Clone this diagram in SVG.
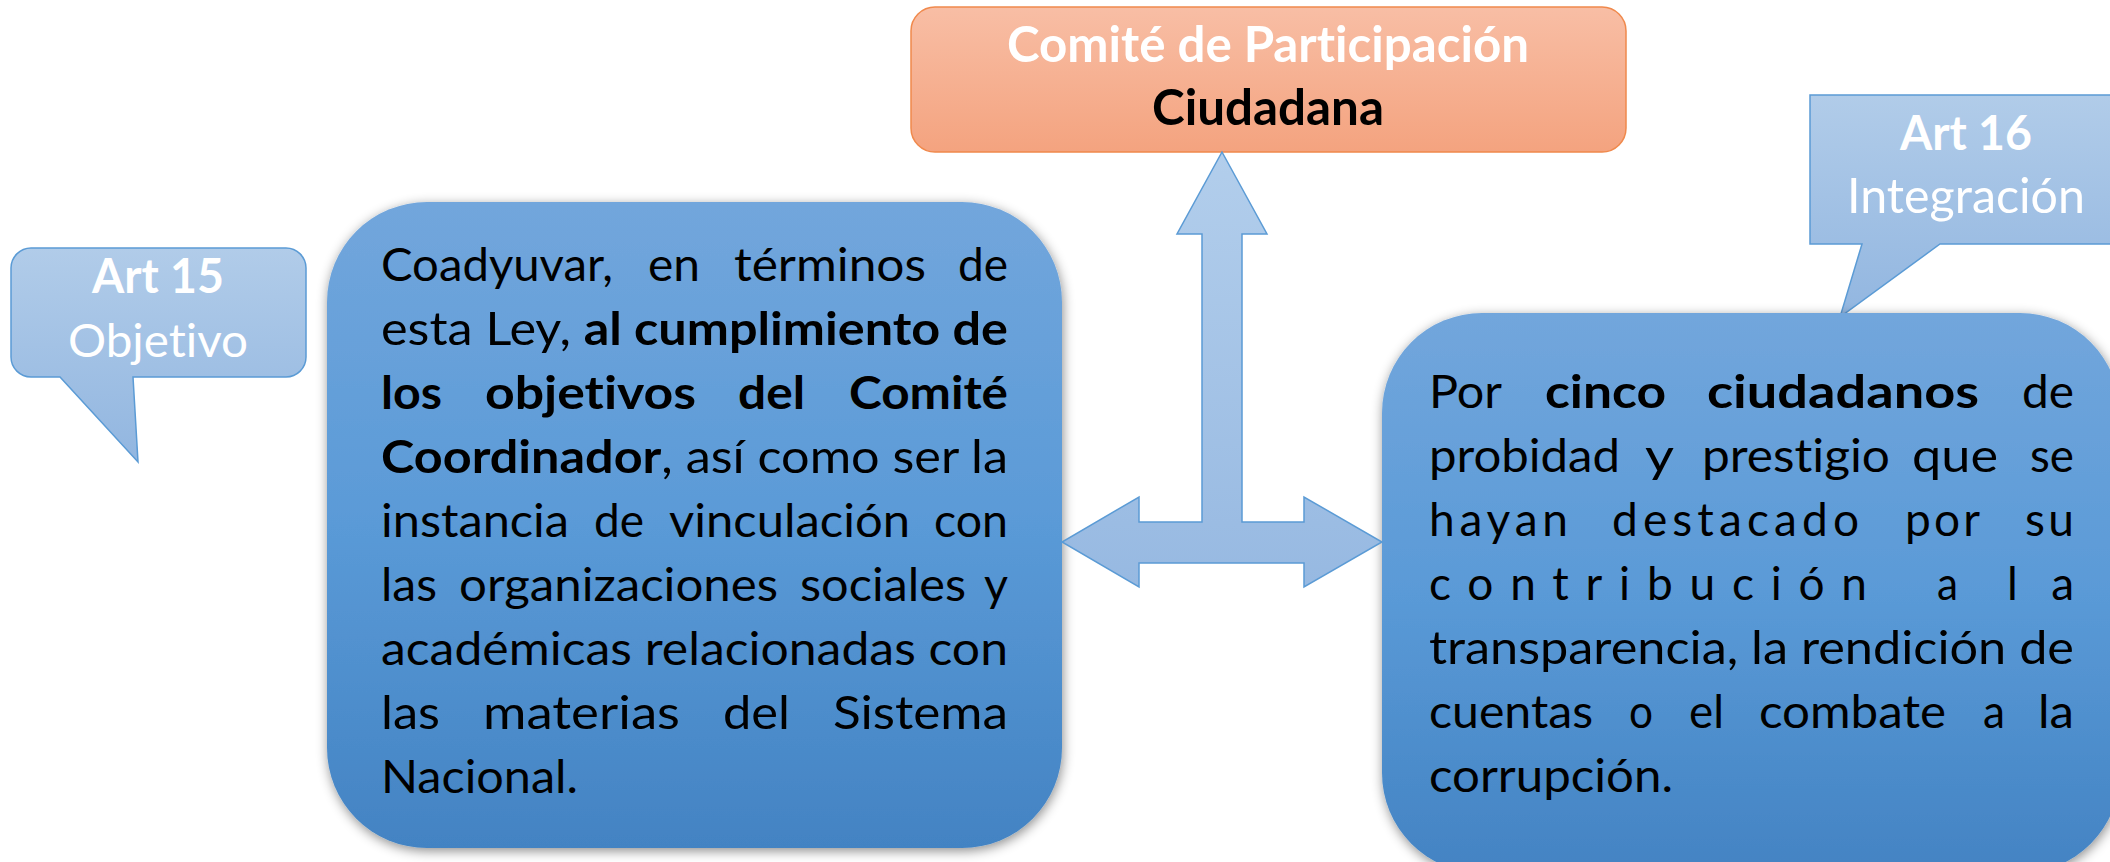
<svg xmlns="http://www.w3.org/2000/svg" width="2110" height="862" viewBox="0 0 2110 862">
<defs>
<linearGradient id="gBox" x1="0" y1="0" x2="0" y2="1">
<stop offset="0" stop-color="#72a6dc"/>
<stop offset="0.5" stop-color="#5a9ad7"/>
<stop offset="1" stop-color="#4383c3"/>
</linearGradient>
<linearGradient id="gCall" x1="0" y1="0" x2="0" y2="1">
<stop offset="0" stop-color="#b1cce9"/>
<stop offset="1" stop-color="#92b6e0"/>
</linearGradient>
<linearGradient id="gArrow" x1="0" y1="0" x2="0" y2="1">
<stop offset="0" stop-color="#accaea"/>
<stop offset="1" stop-color="#8eb3df"/>
</linearGradient>
<linearGradient id="gTop" x1="0" y1="0" x2="0" y2="1">
<stop offset="0" stop-color="#f8bea5"/>
<stop offset="1" stop-color="#f4a37f"/>
</linearGradient>
<filter id="shadow" x="-10%" y="-10%" width="120%" height="120%">
<feDropShadow dx="1" dy="3" stdDeviation="6" flood-color="#000" flood-opacity="0.45"/>
</filter>
</defs>
<style>
text{font-family:Lato,"Liberation Sans",sans-serif;font-variant-ligatures:none;}
.body{font-size:46px;fill:#000;}
.b{font-weight:bold;}
.wh{fill:#fff;}
.callout{fill:url(#gCall);stroke:#5b9bd5;stroke-width:1.5;}
.box{fill:url(#gBox);filter:url(#shadow);}
</style>
<rect width="2110" height="862" fill="#fff"/>

<g id="art15">
<path class="callout" d="M31,248 H286 A20,20 0 0 1 306,268 V357 A20,20 0 0 1 286,377 H133 L138,462 L60,377 H31 A20,20 0 0 1 11,357 V268 A20,20 0 0 1 31,248 Z"/>
<text class="wh b" x="158" y="293" font-size="47" text-anchor="middle" textLength="132" lengthAdjust="spacingAndGlyphs">Art 15</text>
<text class="wh" x="158" y="357" font-size="47" text-anchor="middle" textLength="180" lengthAdjust="spacingAndGlyphs">Objetivo</text>
</g>

<g id="art16">
<path class="callout" d="M1810,95 H2125 V244 H1940 L1840,317 L1862,244 H1810 Z"/>
<text class="wh b" x="1966" y="150" font-size="48" text-anchor="middle" textLength="132" lengthAdjust="spacingAndGlyphs">Art 16</text>
<text class="wh" x="1966" y="213" font-size="48" text-anchor="middle" textLength="238" lengthAdjust="spacingAndGlyphs">Integración</text>
</g>

<g id="comite">
<rect x="911" y="7" width="715" height="145" rx="24" fill="url(#gTop)" stroke="#f0894c" stroke-width="1.5"/>
<text class="wh b" x="1268" y="62" font-size="49" text-anchor="middle" textLength="522" lengthAdjust="spacingAndGlyphs">Comité de Participación</text>
<text class="b" x="1268" y="125" font-size="49" text-anchor="middle" fill="#000" textLength="232" lengthAdjust="spacingAndGlyphs">Ciudadana</text>
</g>

<g id="objetivo-box">
<rect class="box" x="327" y="202" width="735" height="646" rx="100"/>
<g class="body">
<text x="381" y="281" textLength="232" lengthAdjust="spacingAndGlyphs">Coadyuvar,</text>
<text x="648" y="281" textLength="52" lengthAdjust="spacingAndGlyphs">en</text>
<text x="734" y="281" textLength="192" lengthAdjust="spacingAndGlyphs">términos</text>
<text x="958" y="281" textLength="50" lengthAdjust="spacingAndGlyphs">de</text>

<text x="381" y="345" textLength="627" lengthAdjust="spacingAndGlyphs">esta Ley, <tspan class="b">al cumplimiento de</tspan></text>

<text class="b" x="381" y="409" textLength="61" lengthAdjust="spacingAndGlyphs">los</text>
<text class="b" x="485" y="409" textLength="211" lengthAdjust="spacingAndGlyphs">objetivos</text>
<text class="b" x="738" y="409" textLength="67" lengthAdjust="spacingAndGlyphs">del</text>
<text class="b" x="849" y="409" textLength="159" lengthAdjust="spacingAndGlyphs">Comité</text>

<text x="381" y="473" textLength="627" lengthAdjust="spacingAndGlyphs"><tspan class="b">Coordinador</tspan>, así como ser la</text>

<text x="381" y="537" textLength="188" lengthAdjust="spacingAndGlyphs">instancia</text>
<text x="594" y="537" textLength="50" lengthAdjust="spacingAndGlyphs">de</text>
<text x="669" y="537" textLength="241" lengthAdjust="spacingAndGlyphs">vinculación</text>
<text x="934" y="537" textLength="74" lengthAdjust="spacingAndGlyphs">con</text>

<text x="381" y="601" textLength="56" lengthAdjust="spacingAndGlyphs">las</text>
<text x="459" y="601" textLength="319" lengthAdjust="spacingAndGlyphs">organizaciones</text>
<text x="800" y="601" textLength="166" lengthAdjust="spacingAndGlyphs">sociales</text>
<text x="984" y="601" textLength="24" lengthAdjust="spacingAndGlyphs">y</text>

<text x="381" y="665" textLength="627" lengthAdjust="spacingAndGlyphs">académicas relacionadas con</text>

<text x="381" y="729" textLength="59" lengthAdjust="spacingAndGlyphs">las</text>
<text x="483" y="729" textLength="197" lengthAdjust="spacingAndGlyphs">materias</text>
<text x="723" y="729" textLength="67" lengthAdjust="spacingAndGlyphs">del</text>
<text x="833" y="729" textLength="175" lengthAdjust="spacingAndGlyphs">Sistema</text>

<text x="381" y="793" textLength="197" lengthAdjust="spacingAndGlyphs">Nacional.</text>
</g>
</g>

<g id="integracion-box">
<rect class="box" x="1382" y="313" width="738" height="560" rx="100"/>
<g class="body">
<text x="1429" y="408" textLength="73" lengthAdjust="spacingAndGlyphs">Por</text>
<text class="b" x="1545" y="408" textLength="121" lengthAdjust="spacingAndGlyphs">cinco</text>
<text class="b" x="1707" y="408" textLength="272" lengthAdjust="spacingAndGlyphs">ciudadanos</text>
<text x="2022" y="408" textLength="52" lengthAdjust="spacingAndGlyphs">de</text>

<text x="1429" y="472" textLength="191" lengthAdjust="spacingAndGlyphs">probidad</text>
<text x="1645" y="472" textLength="29" lengthAdjust="spacingAndGlyphs">y</text>
<text x="1702" y="472" textLength="188" lengthAdjust="spacingAndGlyphs">prestigio</text>
<text x="1912" y="472" textLength="86" lengthAdjust="spacingAndGlyphs">que</text>
<text x="2030" y="472" textLength="44" lengthAdjust="spacingAndGlyphs">se</text>

<text x="1429" y="536" textLength="139" lengthAdjust="spacing">hayan</text>
<text x="1612" y="536" textLength="247" lengthAdjust="spacing">destacado</text>
<text x="1905" y="536" textLength="75" lengthAdjust="spacing">por</text>
<text x="2025" y="536" textLength="49" lengthAdjust="spacing">su</text>

<text x="1429" y="600" textLength="438" lengthAdjust="spacing">contribución</text>
<text x="1937" y="600" textLength="21" lengthAdjust="spacingAndGlyphs">a</text>
<text x="2007" y="600" textLength="67" lengthAdjust="spacing">la</text>

<text x="1429" y="664" textLength="645" lengthAdjust="spacingAndGlyphs">transparencia, la rendición de</text>

<text x="1429" y="728" textLength="164" lengthAdjust="spacingAndGlyphs">cuentas</text>
<text x="1629" y="728" textLength="24" lengthAdjust="spacingAndGlyphs">o</text>
<text x="1689" y="728" textLength="35" lengthAdjust="spacingAndGlyphs">el</text>
<text x="1759" y="728" textLength="187" lengthAdjust="spacingAndGlyphs">combate</text>
<text x="1983" y="728" textLength="22" lengthAdjust="spacingAndGlyphs">a</text>
<text x="2038" y="728" textLength="36" lengthAdjust="spacingAndGlyphs">la</text>

<text x="1429" y="792" textLength="244" lengthAdjust="spacingAndGlyphs">corrupción.</text>
</g>
</g>

<g id="connectors">
<path d="M1222,152 L1267,234 L1242,234 L1242,522 L1304,522 L1304,497 L1382,542 L1304,587 L1304,563 L1139,563 L1139,587 L1062,542 L1139,497 L1139,522 L1202,522 L1202,234 L1177,234 Z" fill="url(#gArrow)" fill-opacity="0.92" stroke="#5b9bd5" stroke-width="1.5" stroke-linejoin="miter"/>
</g>
</svg>
